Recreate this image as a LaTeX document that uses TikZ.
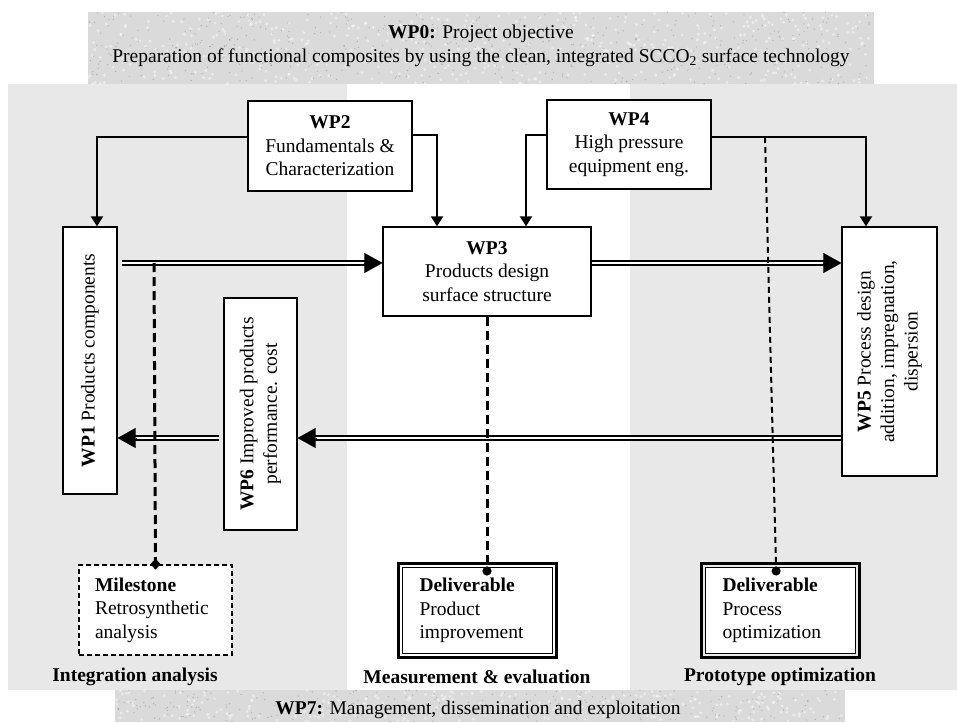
\documentclass[tikz,border=0pt]{standalone}
\usepackage{fontspec}
\setmainfont{Liberation Serif}
\usetikzlibrary{arrows.meta,calc}
\definecolor{panelgrey}{RGB}{232,232,232}
\definecolor{bannergrey}{RGB}{218,218,218}
\newcommand\diagfont{\fontsize{19.5}{23.5}\selectfont}
\tikzset{
  wpbox/.style={draw, line width=1.3pt, fill=white, align=center, inner sep=2pt},
  feed/.style={line width=2pt, -{Triangle[length=10pt,width=12pt]}},
  flow/.style={line width=2pt, double, double distance=1.6pt},
  flowtip/.style={line width=0.1pt, -{Triangle[length=18pt,width=20pt]}},
  link/.style={line width=3pt, dash pattern=on 9pt off 5pt},
  milebox/.style={draw, fill=white, line width=1.7pt, dash pattern=on 5pt off 3pt,
    minimum width=153pt, minimum height=90pt, text width=121pt, align=left},
  delivbox/.style={draw, fill=white, line width=1pt, minimum width=150pt,
    minimum height=86pt, text width=116pt, align=left},
  delivframe/.style={line width=2.8pt},
  speck/.style={fill=#1, opacity=0.45}
}
\begin{document}
\begin{tikzpicture}[x=1pt, y=-1pt, every node/.style={font=\diagfont},
  area/.style={font=\diagfont\bfseries}]
\useasboundingbox (0,0) rectangle (957,722);
% panels and banners
\fill[panelgrey] (8,84) rectangle (957,690);
\fill[white] (347,84) rectangle (630,690);
\fill[bannergrey] (88,12) rectangle (874,84);
\fill[bannergrey] (115,690) rectangle (845,722);
% marble look of the banners
\pgfmathsetseed{11}
\foreach \i in {1,...,500} {
  \fill[speck=white] ({88+786*rnd},{12+72*rnd}) circle (1.6);
  \fill[speck=gray] ({88+786*rnd},{12+72*rnd}) circle (0.7);
}
\foreach \i in {1,...,250} {
  \fill[speck=white] ({115+730*rnd},{690+32*rnd}) circle (1.6);
  \fill[speck=gray] ({115+730*rnd},{690+32*rnd}) circle (0.7);
}
\node[align=center] (wp0) at (481,46) {\textbf{WP0:} Project objective\\
  Preparation of functional composites by using the clean, integrated SCCO\textsubscript{2} surface technology};
\node (wp7) at (478,710) {\textbf{WP7:} Management, dissemination and exploitation};

% work packages
\node[wpbox, minimum width=164pt, minimum height=90pt] (wp2) at (330,146) {\textbf{WP2}\\Fundamentals \&\\Characterization};
\node[wpbox, minimum width=164pt, minimum height=89pt] (wp4) at (629,144.5) {\textbf{WP4}\\High pressure\\equipment eng.};
\node[wpbox, minimum width=208pt, minimum height=89pt] (wp3) at (487,271.5) {\textbf{WP3}\\Products design\\surface structure};
% rotated boxes: east = top, south = right, north = left
\node[wpbox, rotate=90, minimum width=267pt, minimum height=54pt] (wp1) at (90,360.5) {\textbf{WP1} Products components};
\node[wpbox, rotate=90, minimum width=232pt, minimum height=73pt] (wp6) at (260.5,414) {\textbf{WP6} Improved products\\performance. cost};
\node[wpbox, rotate=90, minimum width=249pt, minimum height=95pt] (wp5) at (889.5,351.5) {\textbf{WP5} Process design\\addition, impregnation,\\dispersion};

% milestone and deliverables
\node[milebox] (ms) at (155.5,610) {\textbf{Milestone}\\Retrosynthetic\\analysis};
\node[delivbox] (d1) at (477.5,610.5) {\textbf{Deliverable}\\Product\\improvement};
\node[delivbox] (d2) at (780.5,610.5) {\textbf{Deliverable}\\Process\\optimization};
\foreach \d in {d1,d2}
  \draw[delivframe] ([shift={(-3.3,-3.3)}]\d.north west) rectangle ([shift={(3.3,3.3)}]\d.south east);
\node[area] (ia) at (135,677) {Integration analysis};
\node[area] (me) at (477,677) {Measurement \& evaluation};
\node[area] (po) at (780,677) {Prototype optimization};

% feeds from WP2 and WP4
\draw[feed] (wp2.west |- 0,137) -| (wp1.east -| 97,0);
\draw[feed] (wp2.east |- 0,135) -| (wp3.north -| 437,0);
\draw[feed] (wp4.west |- 0,135) -| (wp3.north -| 526,0);
\draw[feed] (wp4.east |- 0,137) -| (wp5.east -| 866,0);

% main flows
\coordinate (upper) at (0,263);
\coordinate (lower) at (0,438);
\draw[flow, shorten <=4pt, shorten >=17pt] (wp1.south |- upper) -- (wp3.west |- upper);
\draw[flowtip] ($(wp3.west |- upper)+(-18,0)$) -- (wp3.west |- upper);
\draw[flow, shorten >=17pt] (wp3.east |- upper) -- (wp5.north |- upper);
\draw[flowtip] ($(wp5.north |- upper)+(-18,0)$) -- (wp5.north |- upper);
\draw[flow, shorten >=17pt] (wp5.north |- lower) -- (wp6.south |- lower);
\draw[flowtip] ($(wp6.south |- lower)+(18,0)$) -- (wp6.south |- lower);
\draw[flow, shorten <=4pt, shorten >=17pt] (wp6.north |- lower) -- (wp1.south |- lower);
\draw[flowtip] ($(wp1.south |- lower)+(18,0)$) -- (wp1.south |- lower);

% links to milestone / deliverables
\coordinate (m1) at (154,263);
\coordinate (m4) at (765,137);
\draw[link, -{Diamond[length=11pt,width=10pt]}, shorten >=-5.5pt] (m1) -- (ms.north);
\draw[link, -{Circle[length=9pt]}, shorten >=-8.5pt] (wp3.south) -- (wp3.south |- d1.north);
\draw[link, line width=2pt, dash pattern=on 6pt off 4pt, -{Circle[length=9pt]}, shorten >=-8.5pt] (m4) -- (d2.north -| 776,0);
\end{tikzpicture}
\end{document}
